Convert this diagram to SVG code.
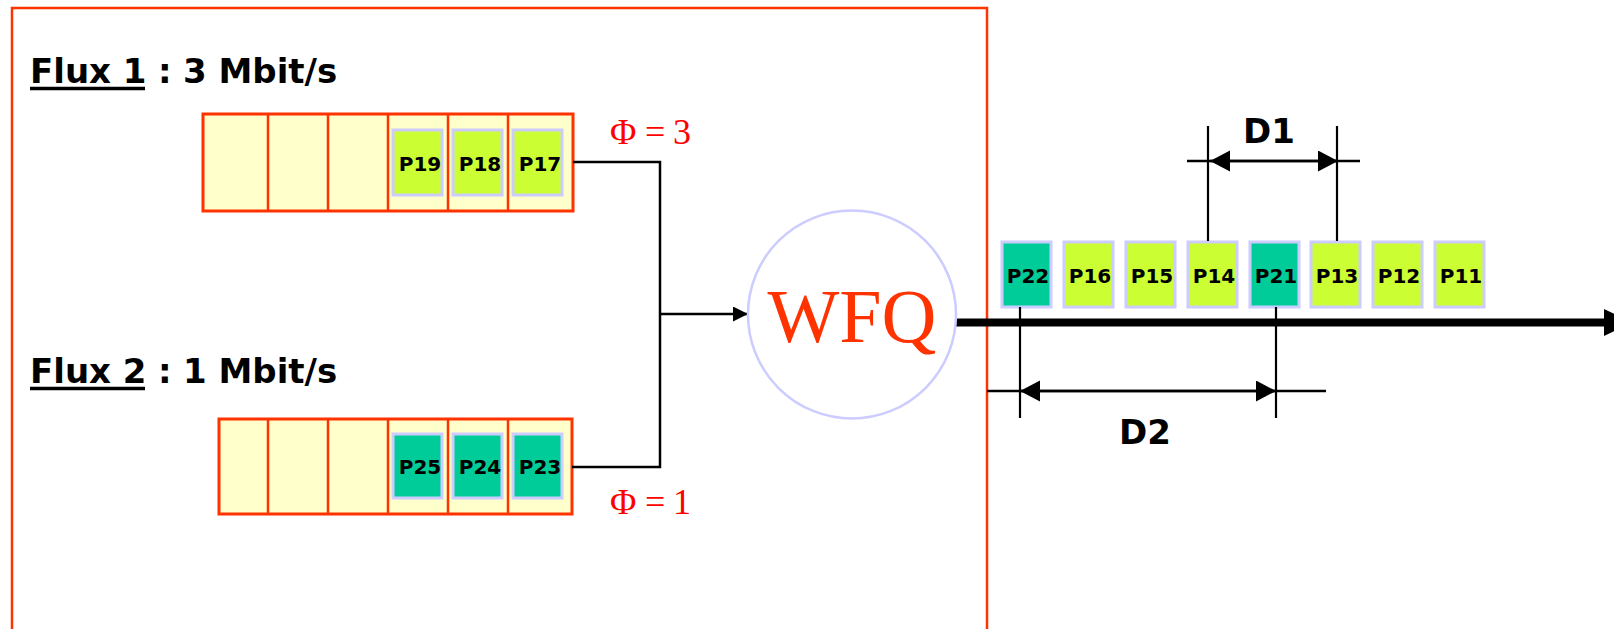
<svg xmlns="http://www.w3.org/2000/svg" width="1614" height="629" viewBox="0 0 1614 629">
  <style>
    .frame { fill: none; stroke: #FF3300; stroke-width: 2.5; }
    .queue { fill: #FFFFCC; stroke: #FF3300; stroke-width: 3; }
    .div { stroke: #FF3300; stroke-width: 2.5; }
    .pk1 { fill: #CCFF33; stroke: #CCCCFF; stroke-width: 3; }
    .pk2 { fill: #00CC99; stroke: #CCCCFF; stroke-width: 3; }
    .pt { font-family: "DejaVu Sans", "Liberation Sans", sans-serif; font-weight: bold; font-size: 20px; fill: #000; text-anchor: middle; }
    .lbl { font-family: "DejaVu Sans", "Liberation Sans", sans-serif; font-weight: bold; font-size: 34px; fill: #000; }
    .dim { font-family: "DejaVu Sans", "Liberation Sans", sans-serif; font-weight: bold; font-size: 34px; fill: #000; text-anchor: middle; }
    .phi { font-family: "Liberation Serif", "Times New Roman", serif; font-size: 36px; fill: #FF0000; }
    .wire { fill: none; stroke: #000; stroke-width: 2.5; }
    .thin { fill: none; stroke: #000; stroke-width: 2.2; }
  </style>
  <defs>
    <marker id="arr" markerUnits="userSpaceOnUse" markerWidth="16" markerHeight="16" refX="15" refY="7.5" orient="auto">
      <path d="M0,0 L15,7.5 L0,15 Z" fill="#000"/>
    </marker>
    <marker id="dimarr" markerUnits="userSpaceOnUse" markerWidth="22" markerHeight="22" refX="20" refY="10.5" orient="auto-start-reverse">
      <path d="M0,0 L20,10.5 L0,21 Z" fill="#000"/>
    </marker>
  </defs>

  <rect width="1614" height="629" fill="#FFFFFF"/>

  <g id="frame">
    <rect class="frame" x="12" y="8" width="975" height="660"/>
  </g>

  <g id="flux1-label">
    <text class="lbl" y="83"><tspan x="30">Flux 1</tspan><tspan x="158">:</tspan><tspan x="183">3 Mbit/s</tspan></text>
    <line x1="30" y1="88.5" x2="145" y2="88.5" stroke="#000" stroke-width="3.5"/>
  </g>

  <g id="flux2-label">
    <text class="lbl" y="383"><tspan x="30">Flux 2</tspan><tspan x="158">:</tspan><tspan x="183">1 Mbit/s</tspan></text>
    <line x1="30" y1="388.5" x2="145" y2="388.5" stroke="#000" stroke-width="3.5"/>
  </g>

  <g id="queue1">
    <rect class="queue" x="203" y="114" width="370" height="97"/>
    <line class="div" x1="268" y1="114" x2="268" y2="211"/>
    <line class="div" x1="328" y1="114" x2="328" y2="211"/>
    <line class="div" x1="388" y1="114" x2="388" y2="211"/>
    <line class="div" x1="448" y1="114" x2="448" y2="211"/>
    <line class="div" x1="508" y1="114" x2="508" y2="211"/>
    <rect class="pk1" x="393" y="130" width="49" height="65"/>
    <text class="pt" x="420" y="171">P19</text>
    <rect class="pk1" x="453" y="130" width="49" height="65"/>
    <text class="pt" x="480" y="171">P18</text>
    <rect class="pk1" x="513" y="130" width="49" height="65"/>
    <text class="pt" x="540" y="171">P17</text>
  </g>

  <g id="queue2">
    <rect class="queue" x="219" y="419" width="353" height="95"/>
    <line class="div" x1="268" y1="419" x2="268" y2="514"/>
    <line class="div" x1="328" y1="419" x2="328" y2="514"/>
    <line class="div" x1="388" y1="419" x2="388" y2="514"/>
    <line class="div" x1="448" y1="419" x2="448" y2="514"/>
    <line class="div" x1="508" y1="419" x2="508" y2="514"/>
    <rect class="pk2" x="393" y="434" width="49" height="64"/>
    <text class="pt" x="420" y="474">P25</text>
    <rect class="pk2" x="453" y="434" width="49" height="64"/>
    <text class="pt" x="480" y="474">P24</text>
    <rect class="pk2" x="513" y="434" width="49" height="64"/>
    <text class="pt" x="540" y="474">P23</text>
  </g>

  <g id="phi3">
    <text class="phi" x="610 645 673" y="144">Φ=3</text>
  </g>
  <g id="phi1">
    <text class="phi" x="610 645 673" y="514">Φ=1</text>
  </g>

  <g id="connectors">
    <polyline class="wire" points="573,162 660,162 660,467 572,467"/>
    <line class="wire" x1="660" y1="314" x2="748" y2="314" marker-end="url(#arr)"/>
    <line x1="952" y1="322.5" x2="1606" y2="322.5" stroke="#000" stroke-width="8"/>
    <path d="M1604,309 L1632,322.5 L1604,336 Z" fill="#000"/>
  </g>

  <g id="wfq">
    <circle cx="852" cy="314.5" r="104" fill="#FFFFFF" stroke="#CCCCFF" stroke-width="2.5"/>
    <text x="852" y="342" font-family="Liberation Serif, Times New Roman, serif" font-size="76" fill="#FF3300" text-anchor="middle">WFQ</text>
  </g>

  <g id="out-P22"><rect class="pk2" x="1002" y="242" width="49" height="65"/><text class="pt" x="1028" y="283">P22</text></g>
  <g id="out-P16"><rect class="pk1" x="1064" y="242" width="49" height="65"/><text class="pt" x="1090" y="283">P16</text></g>
  <g id="out-P15"><rect class="pk1" x="1126" y="242" width="49" height="65"/><text class="pt" x="1152" y="283">P15</text></g>
  <g id="out-P14"><rect class="pk1" x="1188" y="242" width="49" height="65"/><text class="pt" x="1214" y="283">P14</text></g>
  <g id="out-P21"><rect class="pk2" x="1250" y="242" width="49" height="65"/><text class="pt" x="1276" y="283">P21</text></g>
  <g id="out-P13"><rect class="pk1" x="1311" y="242" width="49" height="65"/><text class="pt" x="1337" y="283">P13</text></g>
  <g id="out-P12"><rect class="pk1" x="1373" y="242" width="49" height="65"/><text class="pt" x="1399" y="283">P12</text></g>
  <g id="out-P11"><rect class="pk1" x="1435" y="242" width="49" height="65"/><text class="pt" x="1461" y="283">P11</text></g>

  <g id="dim-D1">
    <line class="thin" x1="1208" y1="126" x2="1208" y2="241"/>
    <line class="thin" x1="1337" y1="126" x2="1337" y2="241"/>
    <line class="wire" x1="1187" y1="161" x2="1360" y2="161"/>
    <line class="wire" x1="1210" y1="161" x2="1338" y2="161" marker-start="url(#dimarr)" marker-end="url(#dimarr)"/>
    <text class="dim" x="1269" y="143">D1</text>
  </g>

  <g id="dim-D2">
    <line class="thin" x1="1020" y1="307" x2="1020" y2="418"/>
    <line class="thin" x1="1276" y1="307" x2="1276" y2="418"/>
    <line class="wire" x1="987" y1="391" x2="1326" y2="391"/>
    <line class="wire" x1="1020" y1="391" x2="1276" y2="391" marker-start="url(#dimarr)" marker-end="url(#dimarr)"/>
    <text class="dim" x="1145" y="444">D2</text>
  </g>
</svg>
